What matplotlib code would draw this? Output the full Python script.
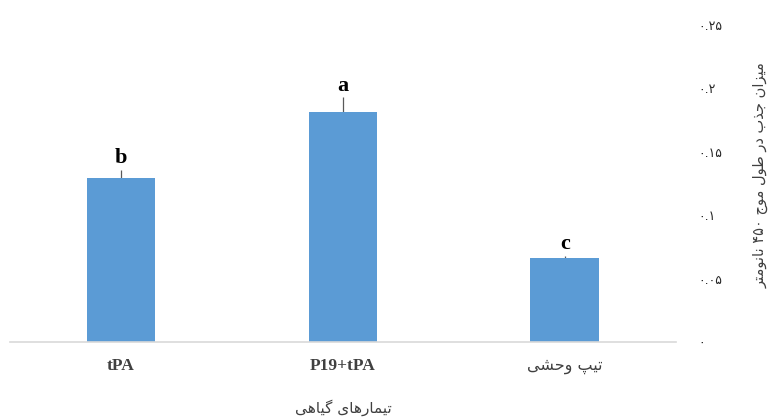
import numpy as np
import matplotlib
matplotlib.use("Agg")
import matplotlib.pyplot as plt

# data
categories = ["tPA", "P19+tPA", "تیپ وحشی"]
values = [0.129, 0.181, 0.066]
errors = [0.007, 0.012, 0.002]
letters = ["b", "a", "c"]
yticks = [0, 0.05, 0.1, 0.15, 0.2, 0.25]
ytick_labels = ["۰", "۰.۰۵", "۰.۱", "۰.۱۵", "۰.۲", "۰.۲۵"]
xlabel = "تیمارهای گیاهی"
ylabel = "میزان جذب در طول موج ۴۵۰ نانومتر"

# minimal arabic/persian shaping: (isolated, final, initial, medial)
FORMS = {
    "ا": (0xFE8D, 0xFE8E), "د": (0xFEA9, 0xFEAA), "ذ": (0xFEAB, 0xFEAC),
    "ر": (0xFEAD, 0xFEAE), "ز": (0xFEAF, 0xFEB0), "و": (0xFEED, 0xFEEE),
    "ب": (0xFE8F, 0xFE90, 0xFE91, 0xFE92), "ت": (0xFE95, 0xFE96, 0xFE97, 0xFE98),
    "ج": (0xFE9D, 0xFE9E, 0xFE9F, 0xFEA0), "ح": (0xFEA1, 0xFEA2, 0xFEA3, 0xFEA4),
    "ش": (0xFEB5, 0xFEB6, 0xFEB7, 0xFEB8), "ط": (0xFEC1, 0xFEC2, 0xFEC3, 0xFEC4),
    "ل": (0xFEDD, 0xFEDE, 0xFEDF, 0xFEE0), "م": (0xFEE1, 0xFEE2, 0xFEE3, 0xFEE4),
    "ن": (0xFEE5, 0xFEE6, 0xFEE7, 0xFEE8), "ه": (0xFEE9, 0xFEEA, 0xFEEB, 0xFEEC),
    "ی": (0xFBFC, 0xFBFD, 0xFBFE, 0xFBFF), "پ": (0xFB56, 0xFB57, 0xFB58, 0xFB59),
    "گ": (0xFB92, 0xFB93, 0xFB94, 0xFB95),
}
DIGITS = "۰۱۲۳۴۵۶۷۸۹.0123456789"

def shape(s):
    out = []
    for i, ch in enumerate(s):
        if ch not in FORMS:
            out.append(ch)
            continue
        f = FORMS[ch]
        prev = s[i - 1] if i > 0 else ""
        nxt = s[i + 1] if i + 1 < len(s) else ""
        jp = prev in FORMS and len(FORMS[prev]) == 4
        jn = nxt in FORMS and len(f) == 4
        if jp and jn:
            out.append(chr(f[3]))
        elif jp:
            out.append(chr(f[1]))
        elif jn:
            out.append(chr(f[2]))
        else:
            out.append(chr(f[0]))
    # visual order: reverse, keep digit runs left to right
    tokens = []
    cur = ""
    for ch in out:
        isd = ch in DIGITS
        if cur and (cur[-1] in DIGITS) != isd:
            tokens.append(cur)
            cur = ""
        cur += ch
    tokens.append(cur)
    res = []
    for t in reversed(tokens):
        res.append(t if t[0] in DIGITS else t[::-1])
    return "".join(res)

fig = plt.figure(figsize=(7.75, 4.17), dpi=100)
ax = fig.add_axes([0.013, 0.18, 0.859, 0.76])

x = np.arange(len(categories))
ax.errorbar(x, values, yerr=errors, fmt="none", ecolor="#595959", elinewidth=0.9, capsize=0, zorder=1)
ax.bar(x, values, width=0.31, color="#5b9bd5", zorder=2)
for xi, v, e, lt in zip(x, values, errors, letters):
    ax.text(xi, v + e + 0.001, lt, ha="center", va="bottom", fontsize=16,
            fontweight="bold", family="Liberation Serif", color="black")

ax.set_xlim(-0.5, 2.5)
ax.set_ylim(0, 0.25)
ax.set_yticks(yticks)
ax.set_yticklabels(ytick_labels, family="DejaVu Sans", fontsize=9, color="#262626")
ax.yaxis.tick_right()
ax.tick_params(axis="y", length=0, pad=16)
ax.set_xticks(x)
ax.set_xticklabels([])
ax.tick_params(axis="x", length=0)
for xi, c in zip(x, categories):
    if c.isascii():
        ax.text(xi, -0.019, c, ha="center", va="center", fontsize=12.5, fontweight="bold",
                family="Liberation Serif", color="#404040", clip_on=False)
    else:
        ax.text(xi, -0.019, shape(c), ha="center", va="center", fontsize=11.5,
                family="DejaVu Sans", color="#404040", clip_on=False)

for side in ["top", "left", "right"]:
    ax.spines[side].set_visible(False)
ax.spines["bottom"].set_color("#d9d9d9")
ax.spines["bottom"].set_linewidth(1.2)

fig.text(0.443, 0.022, shape(xlabel), ha="center", va="center", fontsize=11, family="DejaVu Sans", color="#404040")
fig.text(0.982, 0.58, shape(ylabel), ha="center", va="center", rotation=90, fontsize=10.5,
         family="DejaVu Sans", color="#404040")

fig.savefig("out.png", dpi=100)
